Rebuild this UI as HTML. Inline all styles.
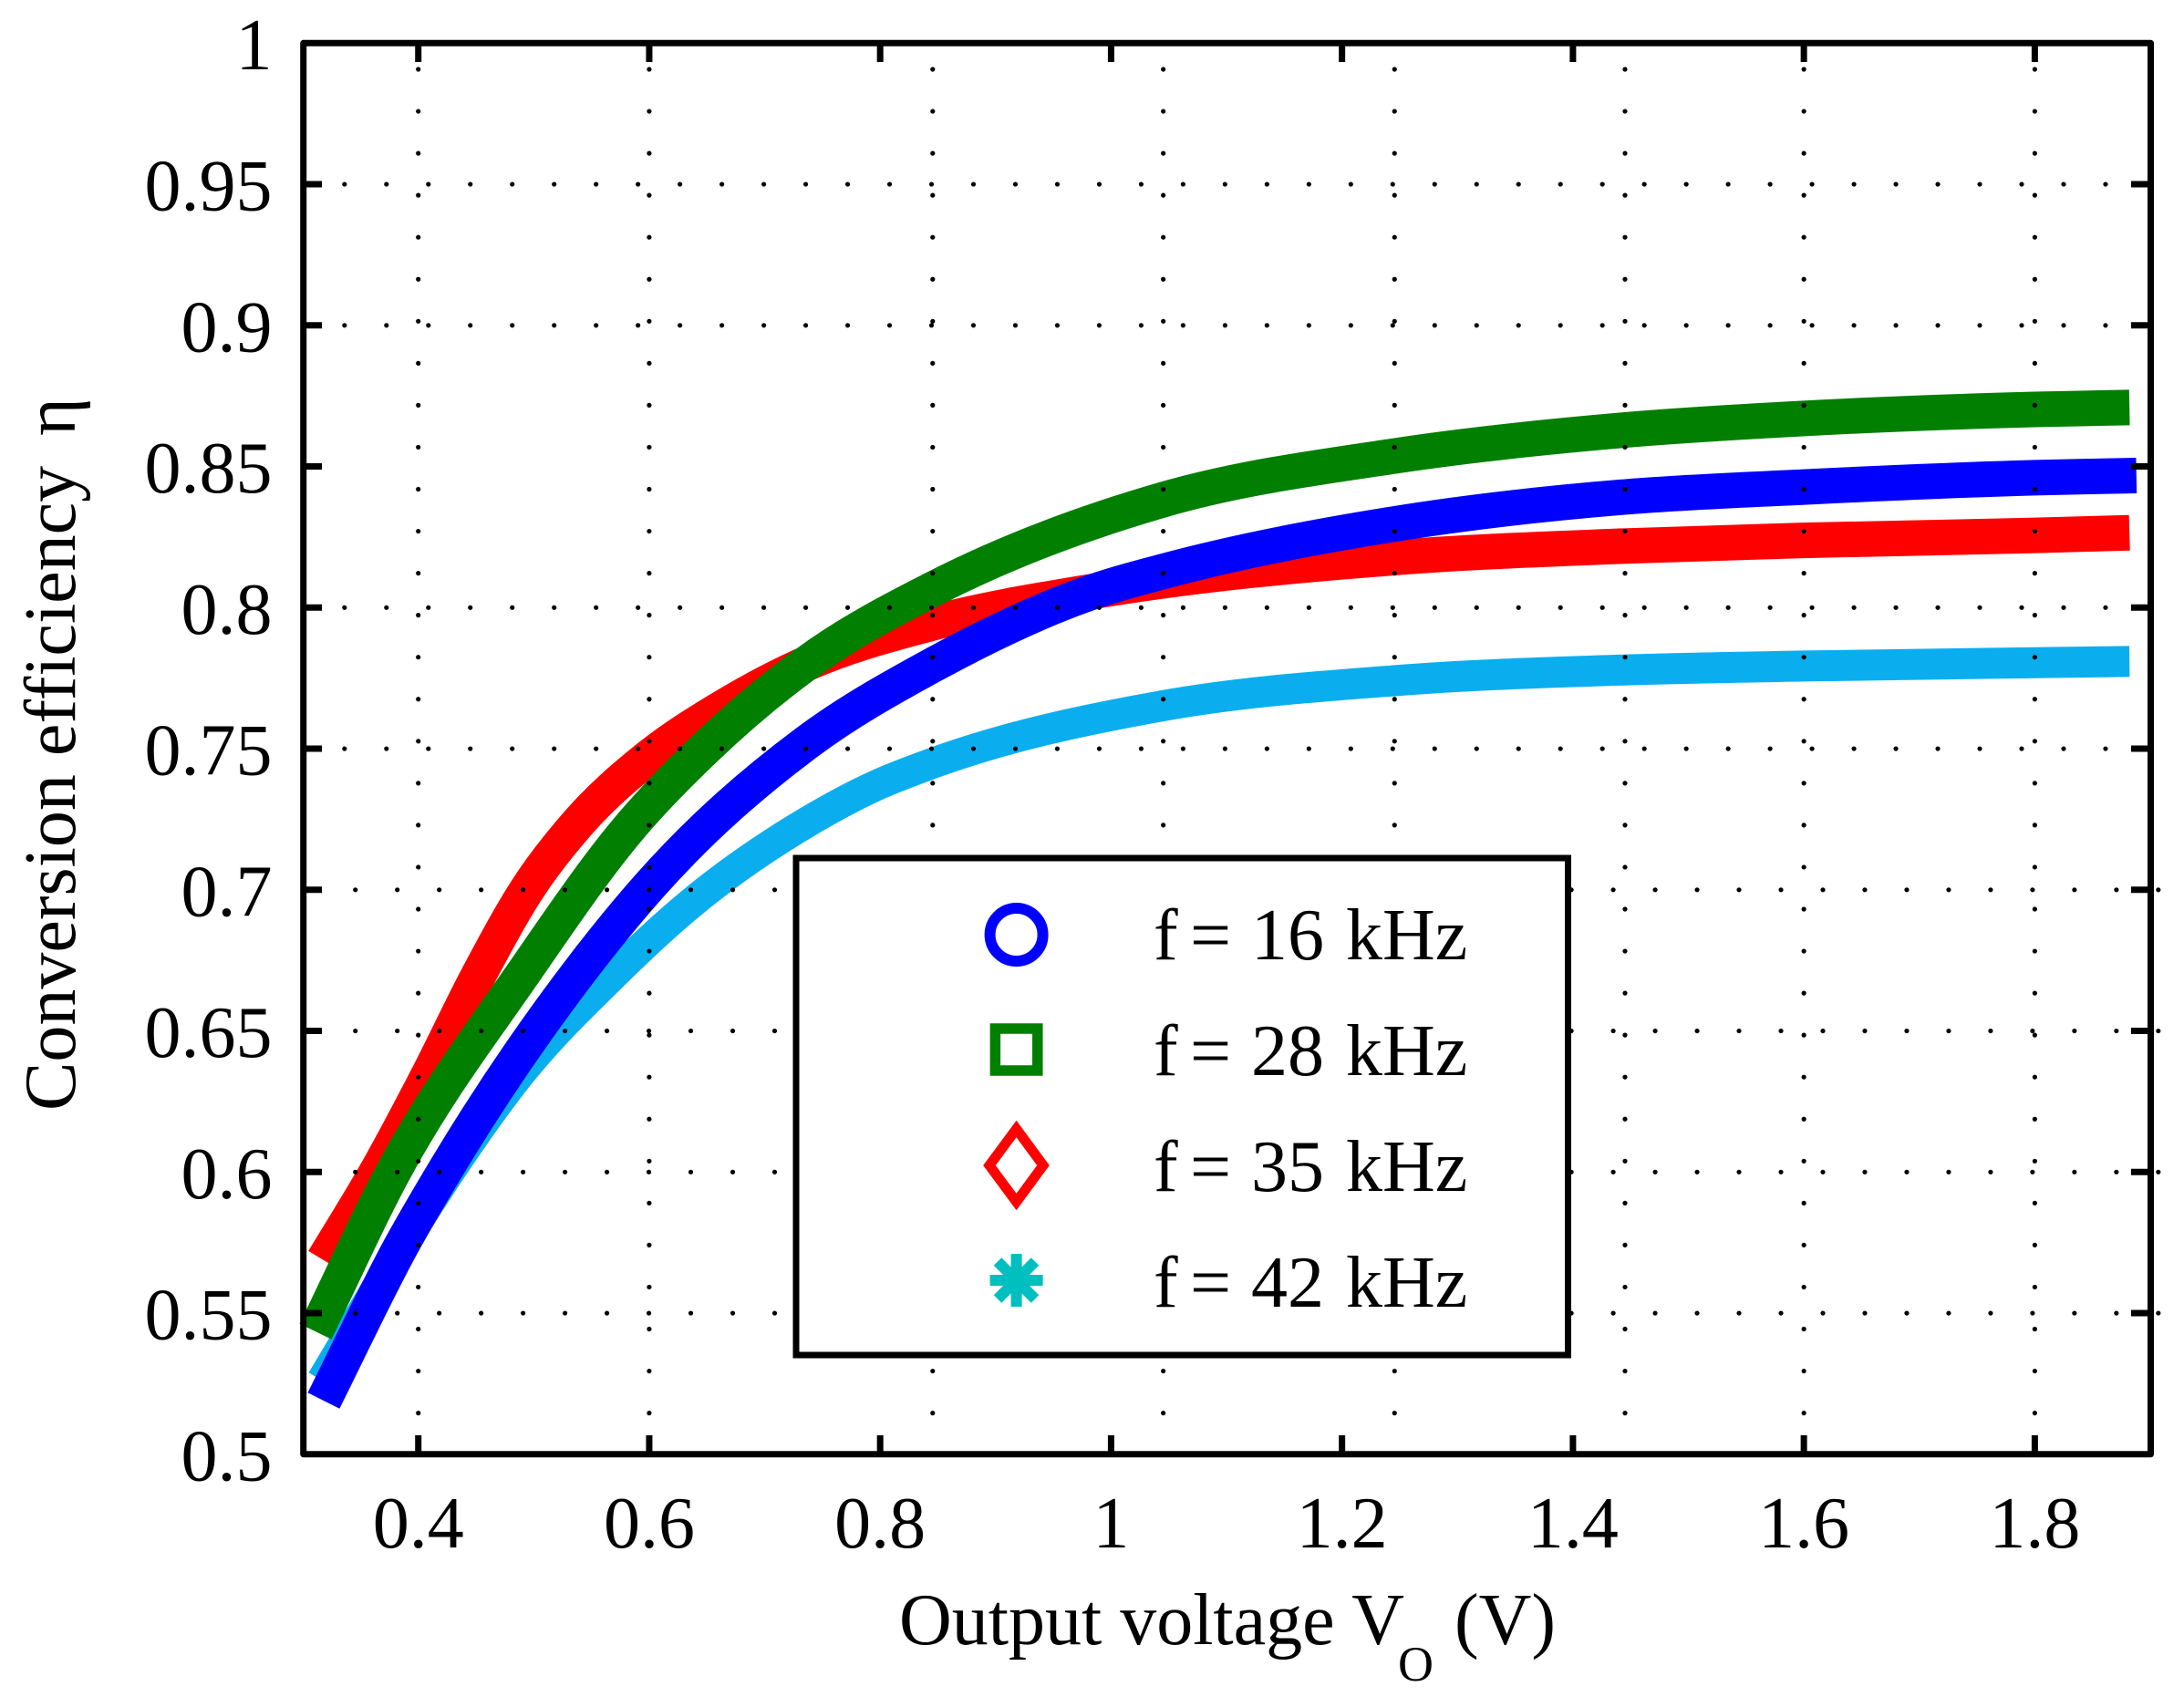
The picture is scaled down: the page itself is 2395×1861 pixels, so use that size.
<!DOCTYPE html>
<html lang="en">
<head>
<meta charset="utf-8">
<title>Conversion efficiency vs output voltage</title>
<style>
html,body{margin:0;padding:0;background:#fff;}
svg{display:block;}
text{font-family:"Liberation Serif","DejaVu Serif",serif;font-size:80px;fill:#000;}
</style>
</head>
<body>
<svg id="chart" xmlns="http://www.w3.org/2000/svg" width="2395" height="1861" viewBox="0 0 2395 1861">
  <rect x="0" y="0" width="2395" height="1861" fill="#fff"/>
  <g id="series"></g>
  <g id="grid"></g>
  <g id="ticks"></g>
  <rect x="332.7" y="47.3" width="2025.8" height="1547.5" fill="none" stroke="#000" stroke-width="7" stroke-linejoin="round"/>
  <g id="labels"></g>

  <text x="986" y="1803" textLength="554" lengthAdjust="spacingAndGlyphs">Output voltage V</text>
  <text x="1533" y="1843" style="font-size:54px">O</text>
  <text x="1595" y="1803">(V)</text>
  <text transform="translate(82,1218) rotate(-90)"><tspan x="0">Conversion efficiency</tspan><tspan x="740">η</tspan></text>

  <g>
    <rect x="873" y="941" width="846.5" height="545" fill="#fff" stroke="#000" stroke-width="7"/>
    <circle cx="1114.6" cy="1025" r="29" fill="none" stroke="#0000ff" stroke-width="12"/>
    <rect x="1091.4" y="1128" width="46.4" height="46" fill="none" stroke="#007f00" stroke-width="11.5"/>
    <polygon points="1114.6,1238 1144,1278 1114.6,1318 1085,1278" fill="none" stroke="#ff0000" stroke-width="11" stroke-miterlimit="10"/>
    <g stroke="#00bfbf" stroke-width="12">
      <line x1="1085.6" y1="1404" x2="1143.6" y2="1404"/>
      <line x1="1114.6" y1="1375" x2="1114.6" y2="1433"/>
      <line x1="1094" y1="1383.5" x2="1135" y2="1424.5"/>
      <line x1="1094" y1="1424.5" x2="1135" y2="1383.5"/>
    </g>
    <text y="1052"><tspan x="1265">f</tspan><tspan x="1305">=</tspan><tspan x="1372">16</tspan><tspan x="1476">kHz</tspan></text>
    <text y="1179"><tspan x="1265">f</tspan><tspan x="1305">=</tspan><tspan x="1372">28</tspan><tspan x="1476">kHz</tspan></text>
    <text y="1306"><tspan x="1265">f</tspan><tspan x="1305">=</tspan><tspan x="1372">35</tspan><tspan x="1476">kHz</tspan></text>
    <text y="1433"><tspan x="1265">f</tspan><tspan x="1305">=</tspan><tspan x="1372">42</tspan><tspan x="1476">kHz</tspan></text>
  </g>
</svg>
<script>
// ---- chart data ----
const xTickValues = [0.4, 0.6, 0.8, 1, 1.2, 1.4, 1.6, 1.8];
const xTickLabels = ["0.4", "0.6", "0.8", "1", "1.2", "1.4", "1.6", "1.8"];
const yTickValues = [0.5, 0.55, 0.6, 0.65, 0.7, 0.75, 0.8, 0.85, 0.9, 0.95, 1];
const yTickLabels = ["0.5", "0.55", "0.6", "0.65", "0.7", "0.75", "0.8", "0.85", "0.9", "0.95", "1"];

const gridColumnValues = [0.4, 0.6, 0.8455, 1.0452, 1.2455, 1.4451, 1.6, 1.8];
const gridRowValuesUpper = [0.95, 0.9, 0.8, 0.75];
const gridRowValuesLower = [0.7, 0.65, 0.6, 0.55];

const voltage16 = [0.318, 0.3859, 0.4224, 0.5429, 0.6, 0.7358, 0.845, 0.99, 1.045, 1.245, 1.445, 1.6, 1.8, 1.888];
const efficiency16 = [0.519, 0.5743, 0.6001, 0.6728, 0.7013, 0.752, 0.7795, 0.8064, 0.8128, 0.8296, 0.8392, 0.8427, 0.846, 0.8468];

const voltage28 = [0.311, 0.3785, 0.4895, 0.5854, 0.649, 0.7446, 0.845, 1.0447, 1.2453, 1.4449, 1.6, 1.8, 1.882];
const efficiency28 = [0.5435, 0.6001, 0.6696, 0.7233, 0.7503, 0.7827, 0.8064, 0.8382, 0.8537, 0.8629, 0.867, 0.8702, 0.8709];

const voltage35 = [0.318, 0.364, 0.408, 0.452, 0.495, 0.538, 0.6, 0.665, 0.738, 0.843, 0.99, 1.245, 1.445, 1.6, 1.8, 1.882];
const efficiency35 = [0.5688, 0.6001, 0.6337, 0.6696, 0.7006, 0.7235, 0.7471, 0.7649, 0.7805, 0.7943, 0.8061, 0.8177, 0.8218, 0.8238, 0.8256, 0.8265];

const voltage42 = [0.3166, 0.4005, 0.4361, 0.4858, 0.5681, 0.6336, 0.728, 0.8, 0.8452, 1.0447, 1.2453, 1.4449, 1.6, 1.8, 1.882];
const efficiency42 = [0.5261, 0.5833, 0.6056, 0.6337, 0.6696, 0.6943, 0.7218, 0.7376, 0.7448, 0.7652, 0.7741, 0.7779, 0.7793, 0.7805, 0.7809];

// ---- axis functions ----
const xScale = v => 458.7 + (v - 0.4) * 1266.2;
const yScale = v => 1594.8 - (v - 0.5) * 3095;

const SVG_NS = "http://www.w3.org/2000/svg";
function make(tag, attrs, parent) {
  const el = document.createElementNS(SVG_NS, tag);
  for (const k in attrs) el.setAttribute(k, attrs[k]);
  parent.appendChild(el);
  return el;
}

// Cubic through the data points with spacing-weighted tangents.
function curvePath(xs, ys) {
  const px = xs.map(xScale), py = ys.map(yScale);
  const n = px.length;
  const secants = [];
  for (let i = 0; i < n - 1; i++) secants.push((py[i + 1] - py[i]) / (px[i + 1] - px[i]));
  const tangents = [secants[0]];
  for (let i = 1; i < n - 1; i++) {
    const h0 = px[i] - px[i - 1], h1 = px[i + 1] - px[i];
    tangents.push((h1 * secants[i - 1] + h0 * secants[i]) / (h0 + h1));
  }
  tangents.push(secants[n - 2]);
  let d = "M" + px[0].toFixed(1) + " " + py[0].toFixed(1);
  for (let i = 0; i < n - 1; i++) {
    const h = (px[i + 1] - px[i]) / 3;
    d += "C" + (px[i] + h).toFixed(1) + " " + (py[i] + tangents[i] * h).toFixed(1) + " " +
      (px[i + 1] - h).toFixed(1) + " " + (py[i + 1] - tangents[i + 1] * h).toFixed(1) + " " +
      px[i + 1].toFixed(1) + " " + py[i + 1].toFixed(1);
  }
  return d;
}

// ---- series ----
const seriesLayer = document.getElementById("series");
const curveStyle = { fill: "none", "stroke-linejoin": "round", "stroke-linecap": "butt" };

const curve42 = make("path", Object.assign({ d: curvePath(voltage42, efficiency42), stroke: "#0aaeef", "stroke-width": 34 }, curveStyle), seriesLayer);



const curve35 = make("path", Object.assign({ d: curvePath(voltage35, efficiency35), stroke: "#ff0000", "stroke-width": 39 }, curveStyle), seriesLayer);



const curve28 = make("path", Object.assign({ d: curvePath(voltage28, efficiency28), stroke: "#007f00", "stroke-width": 39 }, curveStyle), seriesLayer);



const curve16 = make("path", Object.assign({ d: curvePath(voltage16, efficiency16), stroke: "#0000ff", "stroke-width": 39 }, curveStyle), seriesLayer);



// ---- dotted grid ----
const gridLayer = document.getElementById("grid");
const dotStyle = { stroke: "#000", "stroke-width": 5.2, "stroke-linecap": "round" };

gridColumnValues.forEach(v => {
  const line = make("line", Object.assign({ x1: xScale(v), x2: xScale(v), y1: 76, y2: 1551, "stroke-dasharray": "0 46.05" }, dotStyle), gridLayer);
  
  
});
gridRowValuesUpper.forEach(v => {
  const line = make("line", Object.assign({ x1: 377.8, x2: 2310, y1: yScale(v), y2: yScale(v), "stroke-dasharray": "0 45.98" }, dotStyle), gridLayer);
  
  
});
gridRowValuesLower.forEach(v => {
  const line = make("line", Object.assign({ x1: 389.7, x2: 2367, y1: yScale(v), y2: yScale(v), "stroke-dasharray": "0 45.98" }, dotStyle), gridLayer);
  
  
});

// ---- ticks and labels ----
const tickLayer = document.getElementById("ticks");
const labelLayer = document.getElementById("labels");
const tickStyle = { stroke: "#000", "stroke-width": 7 };

xTickValues.forEach((v, i) => {
  const x = xScale(v);
  const top = make("line", Object.assign({ x1: x, x2: x, y1: 47, y2: 68 }, tickStyle), tickLayer);
  
  
  const bottom = make("line", Object.assign({ x1: x, x2: x, y1: 1574, y2: 1595 }, tickStyle), tickLayer);
  
  
  const label = make("text", { x: x, y: 1697, "text-anchor": "middle" }, labelLayer);
  label.textContent = xTickLabels[i];
  
  
});

yTickValues.forEach((v, i) => {
  const y = yScale(v);
  if (v > 0.5 && v < 1) {
    const left = make("line", Object.assign({ x1: 333, x2: 353, y1: y, y2: y }, tickStyle), tickLayer);
    
    
    const right = make("line", Object.assign({ x1: 2337, x2: 2358, y1: y, y2: y }, tickStyle), tickLayer);
    
    
  }
  const label = make("text", { x: 298.5, y: y + 28.5, "text-anchor": "end" }, labelLayer);
  label.textContent = yTickLabels[i];
  
  
});
</script>
</body>
</html>
